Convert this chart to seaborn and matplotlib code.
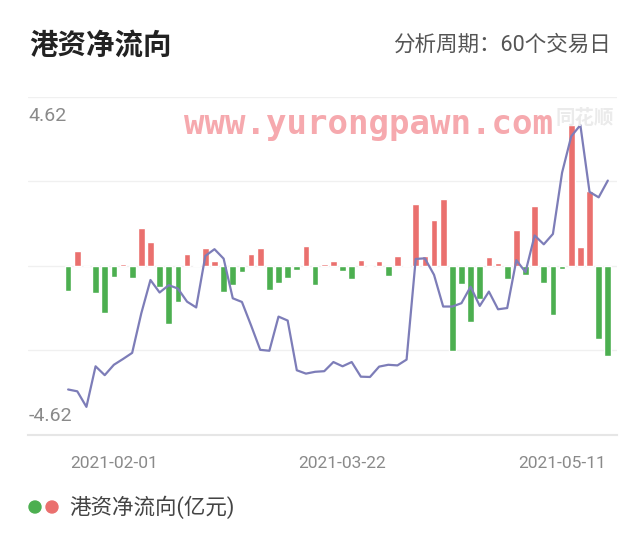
"""
Southbound (HK) capital net flow chart, 60 trading days.

Bars: daily net flow (red = inflow, green = outflow)
Line: flow trend drawn on the same axis
"""

import numpy as np
import pandas as pd
import matplotlib
matplotlib.use('Agg')
import matplotlib.pyplot as plt
from matplotlib.patches import Ellipse
import seaborn as sns

# Daily net flow (亿元), one value per trading day
NET_FLOW = [-0.82, 0.49, 0.00, -0.88, -1.53, -0.36, 0.07, -0.38, 1.26, 0.79,
            -0.68, -1.91, -1.19, 0.40, 0.03, 0.60, 0.16, -0.84, -0.63, -0.20,
            0.38, 0.59, -0.79, -0.55, -0.40, -0.13, 0.66, -0.63, 0.07, 0.17,
            -0.15, -0.42, 0.21, -0.02, 0.15, -0.34, 0.34, 0.03, 2.04, 0.34,
            1.51, 2.20, -2.78, -0.59, -1.84, -1.07, 0.28, 0.11, -0.42, 1.17,
            -0.29, 1.96, -0.56, -1.61, -0.11, 4.62, 0.63, 2.47, -2.38, -2.96]

# Trend line, same scale as the bars
TREND = [-4.05, -4.11, -4.62, -3.29, -3.58, -3.24, -3.05, -2.85, -1.55, -0.46,
         -0.87, -0.63, -0.74, -1.17, -1.36, 0.33, 0.55, 0.24, -1.06, -1.18,
         -1.95, -2.75, -2.78, -1.66, -1.79, -3.42, -3.53, -3.47, -3.45, -3.15,
         -3.29, -3.15, -3.63, -3.64, -3.30, -3.24, -3.26, -3.07, 0.23, 0.25,
         -0.29, -1.33, -1.33, -1.22, -0.68, -1.31, -0.84, -1.42, -1.38, 0.19,
         -0.20, 1.00, 0.71, 1.05, 3.06, 4.25, 4.62, 2.43, 2.25, 2.80]

TICK_IDX = [5, 30, 54]
TICK_LABELS = ['2021-02-01', '2021-03-22', '2021-05-11']
Y_LABELS = ['4.62', '-4.62']

TITLE = '港资净流向'
PERIOD = '分析周期：60个交易日'
LEGEND = '港资净流向(亿元)'
WATERMARK = 'www.yurongpawn.com'
LOGO = '同花顺'

RED = '#ea706e'
GREEN = '#4caf50'
LINE = '#7d7db8'
GRID = '#f0f0f0'

Y_LIM = 5.54


def draw():
    df = pd.DataFrame({'day': np.arange(len(NET_FLOW)),
                       'flow': NET_FLOW,
                       'trend': TREND})
    df['sign'] = np.where(df['flow'] >= 0, 'in', 'out')

    fig = plt.figure(figsize=(6.4, 5.33), dpi=100)
    ax = fig.add_axes([0.044, 0.184, 0.920, 0.634])

    # horizontal grid
    for g in [-Y_LIM / 2, 0, Y_LIM / 2, Y_LIM]:
        ax.axhline(g, color=GRID, lw=1.0, zorder=0)

    sns.barplot(data=df, x='day', y='flow', hue='sign',
                palette={'in': RED, 'out': GREEN}, dodge=False,
                width=0.73, legend=False, saturation=1, ax=ax, zorder=2)
    sns.lineplot(x=df['day'], y=df['trend'], color=LINE, lw=1.6,
                 ax=ax, zorder=3)

    ax.set_xlim(-4.37, 60.0)
    ax.set_ylim(-Y_LIM, Y_LIM)
    ax.set_xlabel('')
    ax.set_ylabel('')

    ax.set_xticks(TICK_IDX)
    ax.set_xticklabels(TICK_LABELS, fontsize=12.5, color='#8a8a8a')
    ax.tick_params(axis='x', length=0, pad=15)
    ax.set_yticks([])

    for s in ['top', 'left', 'right']:
        ax.spines[s].set_visible(False)
    ax.spines['bottom'].set_color('#e6e6e6')
    ax.spines['bottom'].set_linewidth(1.5)

    # y labels sit inside the plot, just outside the extreme values
    ymark = ax.get_yaxis_transform()
    ax.text(0.0, max(NET_FLOW), Y_LABELS[0], transform=ymark, ha='left',
            va='bottom', fontsize=14, color='#8a8a8a')
    ax.text(0.0, min(TREND), Y_LABELS[1], transform=ymark, ha='left',
            va='top', fontsize=14, color='#8a8a8a')

    # watermarks
    fig.text(0.575, 0.766, WATERMARK, ha='center', va='center',
             fontsize=24.5, fontweight='bold', color='#f6a9ae',
             family=['DejaVu Sans Mono'], zorder=5)
    fig.text(0.913, 0.778, LOGO, ha='center', va='center', fontsize=14,
             fontweight='bold', color='#ebebeb', style='italic', zorder=5)

    # header
    fig.text(0.045, 0.915, TITLE, ha='left', va='center', fontsize=20.5,
             fontweight='bold', color='#222222')
    fig.text(0.955, 0.915, PERIOD, ha='right', va='center', fontsize=15.5,
             color='#555555')

    # legend
    ly = 1 - 507 / 533
    for cx, c in [(35, GREEN), (52, RED)]:
        fig.add_artist(Ellipse((cx / 640, ly), 12 / 640, 12 / 533,
                               transform=fig.transFigure, color=c))
    fig.text(0.108, ly, LEGEND, ha='left', va='center',
             fontsize=15.5, color='#444444')

    fig.savefig('out.png', dpi=100, facecolor='white')


if __name__ == "__main__":
    sns.set_theme(style='white')
    plt.rcParams['font.family'] = ['Roboto', 'Noto Sans CJK SC', 'DejaVu Sans']
    draw()
